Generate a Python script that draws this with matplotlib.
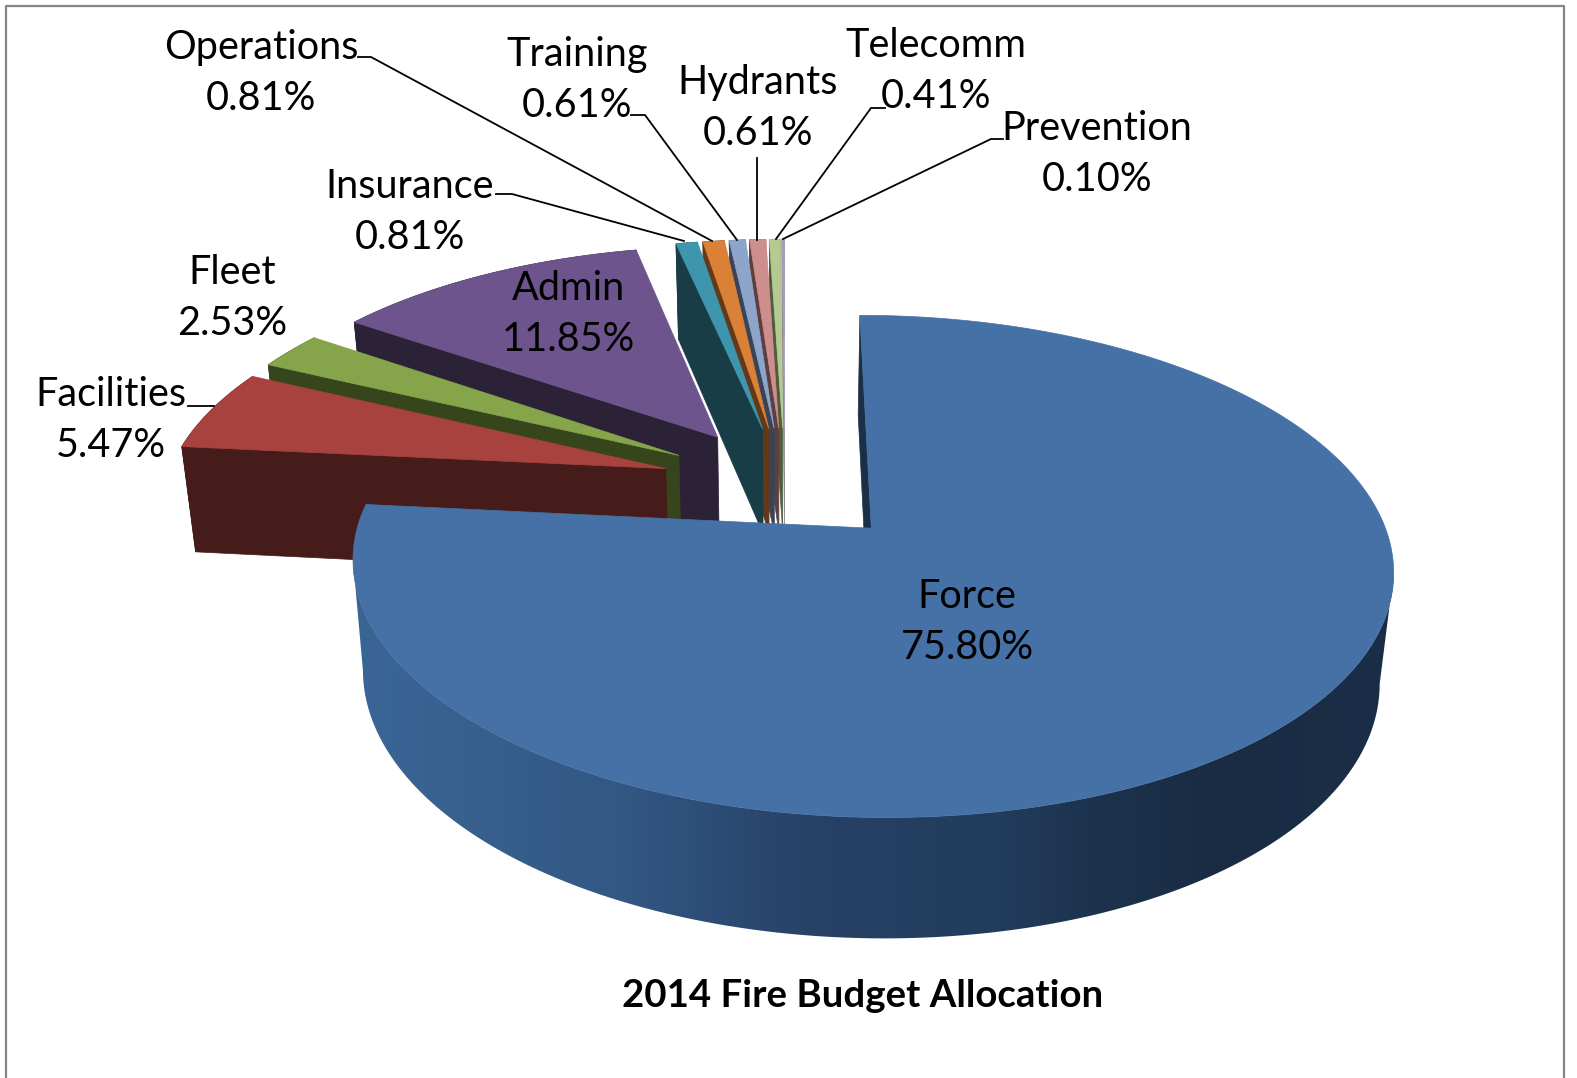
"""
2014 fire budget allocation as an exploded 3D pie.
matplotlib has no real 3D pie, so the slices are projected by hand onto a
pixel-sized axes.
"""

import numpy as np
import matplotlib.pyplot as plt
from matplotlib.patches import Polygon

plt.rcParams['font.family'] = ['Lato', 'DejaVu Sans']

# clockwise from 12 o'clock
categories = ['Force', 'Facilities', 'Fleet', 'Admin', 'Insurance', 'Operations',
              'Training', 'Hydrants', 'Telecomm', 'Prevention']
percents = [75.80, 5.47, 2.53, 11.85, 0.81, 0.81, 0.61, 0.61, 0.41, 0.10]
top_colors = ['#4571A6', '#A8423F', '#86A44A', '#6E548D', '#3D96AE', '#DA8137',
              '#8EA5CB', '#CE8E8D', '#B5CA92', '#A99BBD']
wall_colors = ['#1B2F48', '#451C1A', '#36451C', '#2C2238', '#193D47', '#63391A',
               '#3A4459', '#5C4040', '#4F5C3E', '#8A8A8A']
title = '2014 Fire Budget Allocation'

# label centres in pixels, two lines each
label_x = [967, 111, 232, 568, 410, 261, 577, 758, 936, 1097]
label_y = [622, 420, 298, 314, 212, 73, 80, 108, 71, 154]

# leader lines in pixels, one per outside label
leaders = [
    [(188, 406), (214, 406)],
    [(496, 194), (512, 194), (684, 241)],
    [(358, 57), (371, 57), (712, 241)],
    [(631, 115), (645, 115), (737, 240)],
    [(757, 158), (757, 240)],
    [(885, 108), (871, 108), (776, 239)],
    [(1003, 139), (991, 139), (783, 239)],
]

# projection settings
CX, CY = 785.0, 484.0
K, M, P = 500.0, 232.0, 0.148
EXPLODE = 0.25
DEPTH, DEPTH_P, SHRINK = 107.0, 0.097, 0.977


def project(u, v, bottom=False):
    """Disk coordinates (radius 1, v pointing away) to pixel coordinates."""
    u, v = np.asarray(u, float), np.asarray(v, float)
    sx = CX + K * u / (1 + P * v)
    sy = CY - M * v / (1 + P * v)
    if bottom:
        sx = CX + (sx - CX) * SHRINK
        sy = sy + DEPTH / (1 + DEPTH_P * v)
    return sx, sy


def slice_geometry(start, end):
    """Apex and rim of a slice in disk coordinates, angles in radians."""
    mid = (start + end) / 2
    ou, ov = EXPLODE * np.sin(mid), EXPLODE * np.cos(mid)
    a = np.linspace(start, end, max(int(np.degrees(end - start) * 2), 2))
    return ou, ov, ou + np.sin(a), ov + np.cos(a)


def wall_gradient():
    """Shade of the Force rim wall, lit from the left, as a one-row image."""
    x = np.linspace(352, 1395, 600)
    stops = [352, 620, 800, 1000, 1100, 1210, 1395]
    channels = [[58, 50, 40, 34, 28, 25, 27],
                [102, 88, 66, 60, 50, 44, 46],
                [150, 132, 104, 92, 76, 68, 71]]
    return np.array([np.interp(x, stops, c) for c in channels]).T[np.newaxis] / 255


fig = plt.figure(figsize=(15.77, 10.78), dpi=100)
ax = fig.add_axes([0, 0, 1, 1])

# chart frame, cut off by the bottom of the picture
ax.plot([6, 6, 1564, 1564], [1078, 6, 6, 1078], color='#868686', lw=1.6, zorder=1)

fractions = np.array(percents) / sum(percents)
edges = np.concatenate([[0], np.cumsum(fractions)]) * 2 * np.pi

# back to front: Prevention round to Facilities, Force last
order = list(range(len(categories) - 1, 0, -1)) + [0]
z = 2
for i in order:
    ou, ov, ru, rv = slice_geometry(edges[i], edges[i + 1])

    # radial wall on the start side
    ax_t = project([ou, ru[0]], [ov, rv[0]])
    ax_b = project([ou, ru[0]], [ov, rv[0]], bottom=True)
    wall = np.column_stack([np.r_[ax_t[0], ax_b[0][::-1]], np.r_[ax_t[1], ax_b[1][::-1]]])
    ax.add_patch(Polygon(wall, fc=wall_colors[i], ec=wall_colors[i], lw=0.5, zorder=z))

    # rim wall, only Force shows it: front half between the side extremes
    tx, ty = project(ru, rv)
    bx, by = project(ru, rv, bottom=True)
    if i == 0:
        t0, t1 = np.argmax(tx), np.argmin(tx)
        b0, b1 = np.argmax(bx), np.argmin(bx)
        rim = np.column_stack([np.r_[tx[t0:t1 + 1], bx[b0:b1 + 1][::-1]],
                               np.r_[ty[t0:t1 + 1], by[b0:b1 + 1][::-1]]])
        clip = Polygon(rim, fc='none', ec='none', transform=ax.transData)
        ax.add_patch(clip)
        img = ax.imshow(wall_gradient(), extent=[352, 1395, 1078, 0], aspect='auto',
                        interpolation='bilinear', zorder=z)
        img.set_clip_path(clip)
    else:
        rim = np.column_stack([np.r_[tx, bx[::-1]], np.r_[ty, by[::-1]]])
        ax.add_patch(Polygon(rim, fc=wall_colors[i], ec=wall_colors[i], lw=0.5, zorder=z))

    # top face
    ax_x, ax_y = project(ou, ov)
    top = np.column_stack([np.r_[ax_x, tx], np.r_[ax_y, ty]])
    ax.add_patch(Polygon(top, fc=top_colors[i], ec=top_colors[i], lw=0.5, zorder=z + 0.5))
    z += 1

for pts in leaders:
    xs, ys = zip(*pts)
    ax.plot(xs, ys, color='black', lw=1.3, zorder=30, solid_joinstyle='miter')

for name, pct, x, y in zip(categories, percents, label_x, label_y):
    ax.text(x, y, f'{name}\n{pct:.2f}%', ha='center', va='center', fontsize=28.5,
            linespacing=1.47, color='black', zorder=31)

ax.text(863, 996, title, ha='center', va='center', fontsize=27.6, fontweight='bold',
        color='black', zorder=31)

ax.set_xlim(0, 1577)
ax.set_ylim(1078, 0)
ax.axis('off')

fig.savefig('out.png', dpi=100)
